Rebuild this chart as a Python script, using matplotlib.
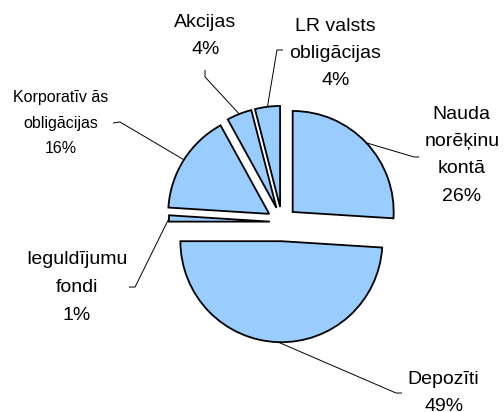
import matplotlib
matplotlib.use("Agg")
import matplotlib.pyplot as plt
import numpy as np

plt.rcParams['font.family'] = ['Liberation Sans', 'DejaVu Sans']

# data (clockwise from 12 o'clock)
names = ['Nauda\nnorēķinu\nkontā', 'Depozīti', 'Ieguldījumu\nfondi',
         'Korporatīv ās\nobligācijas', 'Akcijas', 'LR valsts\nobligācijas']
shares = [26, 49, 1, 16, 4, 4]

# layout
explode = [0.145, 0.19, 0.12, 0.15, 0.15, 0.15]
fill = '#99CCFF'
label_sizes = [14, 14, 14, 11.5, 14, 14]
label_spacing = [1.78, 1.78, 1.85, 1.85, 1.78, 1.78]
# label centre, then leader tick (near text end, far end), in radius units
label_pos = [(1.78, 0.66), (1.60, -1.69), (-2.03, -0.65),
             (-2.19, 0.98), (-0.76, 1.84), (0.53, 1.67)]
tick_a = [(1.358, 0.644), (1.188, -1.693), (-1.515, -0.644),
          (-1.673, 0.980), (-0.762, 1.505), (0.010, 1.703)]
tick_b = [(1.307, 0.644), (1.129, -1.693), (-1.455, -0.644),
          (-1.604, 0.990), (-0.762, 1.436), (-0.050, 1.703)]

fig = plt.figure(figsize=(5.04, 4.12), dpi=100)
ax = fig.add_axes([0, 0, 1, 1])

wedges, _ = ax.pie(shares, explode=explode, startangle=90, counterclock=False,
                   colors=[fill] * len(shares),
                   wedgeprops=dict(edgecolor='black', linewidth=1.3))

for i, w in enumerate(wedges):
    mid = np.deg2rad((w.theta1 + w.theta2) / 2)
    cx, cy = w.center
    px, py = cx + w.r * np.cos(mid), cy + w.r * np.sin(mid)
    ax.plot([px, tick_b[i][0], tick_a[i][0]], [py, tick_b[i][1], tick_a[i][1]],
            color='black', lw=0.7, solid_capstyle='butt')
    txt = names[i] + '\n' + str(shares[i]) + '%'
    ax.text(label_pos[i][0], label_pos[i][1], txt, ha='center', va='center',
            fontsize=label_sizes[i], linespacing=label_spacing[i], clip_on=False)

ax.set_xlim(-2.792, 2.198)
ax.set_ylim(-1.881, 2.198)
ax.set_aspect('auto')
ax.axis('off')

plt.savefig('out.png', dpi=100)
